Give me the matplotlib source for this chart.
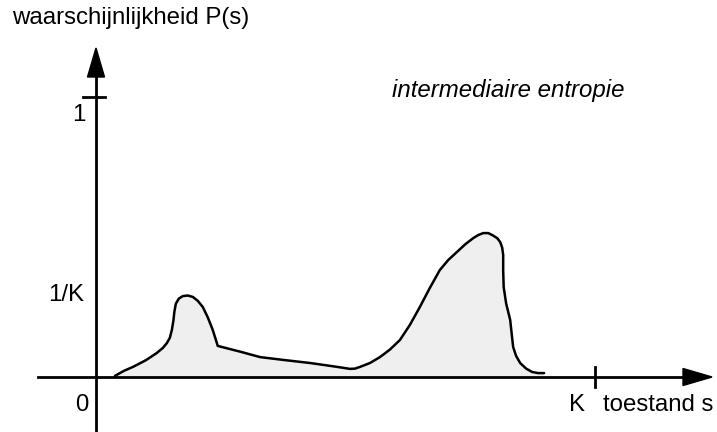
import matplotlib
matplotlib.use("Agg")
import matplotlib.pyplot as plt
from matplotlib.patches import Polygon
import numpy as np

# ---- data (state s in units of K, probability P) ----
s_vals = [0.038, 0.056, 0.074, 0.100, 0.122, 0.134, 0.142, 0.148, 0.152, 0.155, 0.157, 0.160,
          0.166, 0.174, 0.184, 0.194, 0.204, 0.214, 0.224, 0.234, 0.244, 0.290, 0.329, 0.380,
          0.429, 0.480, 0.509, 0.519, 0.529, 0.549, 0.569, 0.589, 0.609, 0.629, 0.649, 0.669,
          0.689, 0.706, 0.723, 0.740, 0.756, 0.766, 0.776, 0.786, 0.794, 0.804, 0.810, 0.814,
          0.816, 0.816, 0.817, 0.822, 0.830, 0.833, 0.836, 0.842, 0.850, 0.862, 0.874, 0.886,
          0.898]
p_vals = [0.004, 0.022, 0.036, 0.060, 0.086, 0.104, 0.121, 0.140, 0.168, 0.200, 0.232, 0.262,
          0.280, 0.289, 0.291, 0.286, 0.272, 0.250, 0.213, 0.168, 0.111, 0.090, 0.071, 0.060,
          0.050, 0.037, 0.029, 0.030, 0.036, 0.050, 0.071, 0.098, 0.132, 0.186, 0.250, 0.318,
          0.382, 0.418, 0.446, 0.474, 0.496, 0.507, 0.514, 0.514, 0.507, 0.496, 0.482, 0.462,
          0.436, 0.380, 0.321, 0.262, 0.204, 0.155, 0.107, 0.075, 0.050, 0.030, 0.018, 0.014,
          0.014]
y_tick_vals = [1.0]
y_tick_labels = ["1", "1/K", "0"]
x_tick_vals = [1.0]
x_tick_labels = ["K"]
y_title = "waarschijnlijkheid P(s)"
x_title = "toestand s"
annotation = "intermediaire entropie"

# ---- figure: pixel mapping s=0 -> 96px, s=1 -> 595px; P=0 -> 377px, P=1 -> 97px ----
W, H = 717, 432
fig = plt.figure(figsize=(W / 100, H / 100), dpi=100)
ax = fig.add_axes([0, 0, 1, 1])
sx = 499.0   # px per s-unit
py = 280.0   # px per P-unit
ax.set_xlim(-96 / sx, (W - 96) / sx)
ax.set_ylim((377 - H) / py, 377 / py)
ax.axis("off")

plt.rcParams['font.family'] = ['Liberation Sans', 'DejaVu Sans']


def px(x):
    return (x - 96) / sx


def pyv(y):
    return (377 - y) / py


# filled distribution
xs = np.array(s_vals)
ys = np.array(p_vals)
poly_x = np.concatenate([xs, [xs[-1], xs[0]]])
poly_y = np.concatenate([ys, [0, 0]])
ax.fill(poly_x, poly_y, color="#efefef", zorder=1, lw=0)
ax.plot(xs, ys, color="black", lw=1.8, zorder=3, solid_joinstyle="round", solid_capstyle="round")

# axes lines
lw_axis = 2.0
ax.plot([px(38), px(690)], [0, 0], color="black", lw=lw_axis, zorder=4)
ax.plot([0, 0], [pyv(H), pyv(75)], color="black", lw=lw_axis, zorder=4)

# arrowheads
hw = 8.5  # half width px
hl = 29   # length px
ax.add_patch(Polygon([[px(712), 0], [px(712 - hl), hw / py], [px(712 - hl), -hw / py]],
                     closed=True, color="black", zorder=5))
ax.add_patch(Polygon([[0, pyv(48)], [-hw / sx, pyv(48 + hl)], [hw / sx, pyv(48 + hl)]],
                     closed=True, color="black", zorder=5))

# ticks
for v in y_tick_vals:
    ax.plot([px(83), px(105)], [v, v], color="black", lw=lw_axis, zorder=4)
for v in x_tick_vals:
    ax.plot([v, v], [-10 / py, 10 / py], color="black", lw=lw_axis, zorder=4)

fs = 17.3
# tick labels
ax.text(px(86), pyv(115), y_tick_labels[0], ha="right", va="center", fontsize=fs)
ax.text(px(84), pyv(295), y_tick_labels[1], ha="right", va="center", fontsize=fs)
ax.text(px(82), pyv(405), y_tick_labels[2], ha="center", va="center", fontsize=fs)
ax.text(px(577), pyv(405), x_tick_labels[0], ha="center", va="center", fontsize=fs)

# titles
ax.text(12 / W, 1 - 18 / H, y_title, transform=ax.transAxes, ha="left", va="center", fontsize=fs)
ax.text(px(603), pyv(405), x_title, ha="left", va="center", fontsize=fs)
ax.text(px(392), pyv(90), annotation, ha="left", va="center", fontsize=fs, style="italic")

fig.savefig("out.png", dpi=100)
